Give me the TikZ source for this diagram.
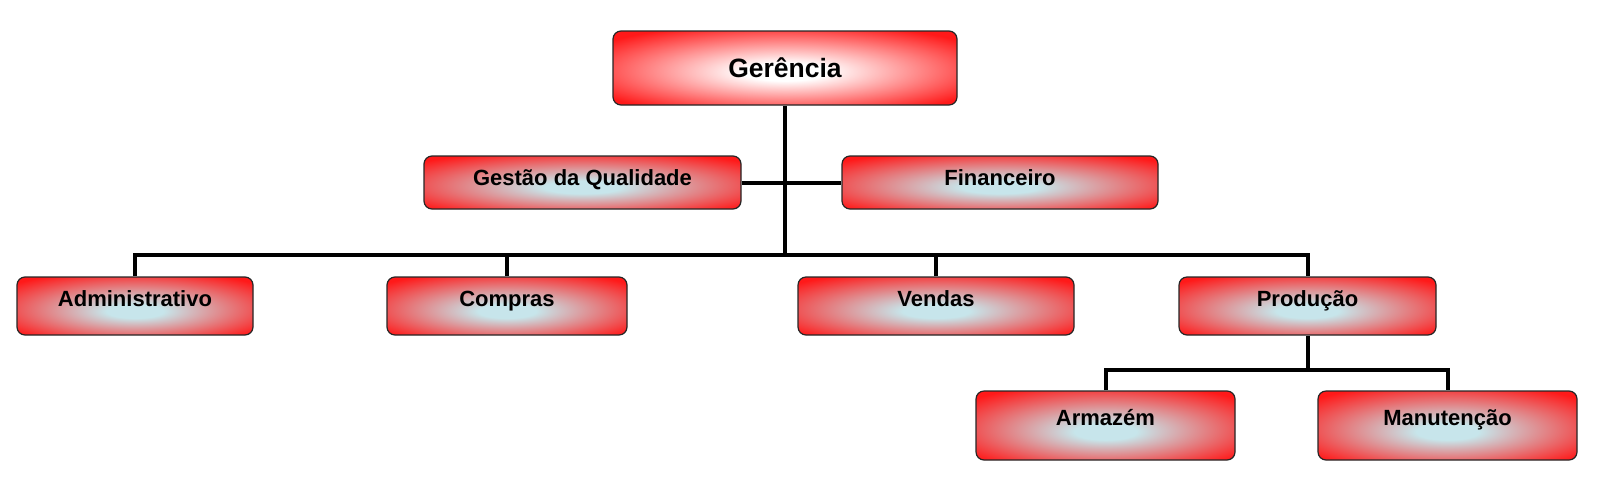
\documentclass[tikz,border=0pt]{standalone}
\usepackage{fontspec}
\setmainfont{Liberation Sans}
\usetikzlibrary{backgrounds}
\pgfdeclareradialshading{lvlshade}{\pgfpoint{0bp}{-5bp}}{rgb(0bp)=(0.78,0.90,0.92); rgb(6bp)=(0.78,0.90,0.92); rgb(33bp)=(1,0.1,0.1); rgb(50bp)=(1,0.1,0.1)}
\pgfdeclareradialshading{topshade}{\pgfpoint{0bp}{-3bp}}{rgb(0bp)=(1,1,1); rgb(6bp)=(1,1,1); rgb(32bp)=(1,0.1,0.1); rgb(50bp)=(1,0.1,0.1)}
\begin{document}
\begin{tikzpicture}[x=1pt,y=-1pt,
  box/.style={draw=black!85, line width=1.2pt, rounded corners=8pt, inner sep=0pt,
    shade, shading=lvlshade, font=\bfseries\fontsize{22}{26}\selectfont,
    text height=0pt, text depth=0pt},
  conn/.style={line width=4pt, draw=black}]
\useasboundingbox (0,0) rectangle (1600,488);

\node[box, shading=topshade, minimum width=344pt, minimum height=74pt,
  font=\bfseries\fontsize{26.5}{30}\selectfont, text height=19pt] (ger) at (785,68) {Gerência};
\node[box, minimum width=317pt, minimum height=53pt, text height=5pt] (gq) at (582.5,182.5) {Gestão da Qualidade};
\node[box, minimum width=316pt, minimum height=53pt, text height=5pt] (fin) at (1000,182.5) {Financeiro};

\node[box, minimum width=236pt, minimum height=58pt] (adm) at (135,306) {Administrativo};
\node[box, minimum width=240pt, minimum height=58pt] (comp) at (507,306) {Compras};
\node[box, minimum width=276pt, minimum height=58pt] (vend) at (936,306) {Vendas};
\node[box, minimum width=257pt, minimum height=58pt] (prod) at (1307.5,306) {Produção};

\node[box, minimum width=259pt, minimum height=69pt] (arm) at (1105.5,425.5) {Armazém};
\node[box, minimum width=259pt, minimum height=69pt] (man) at (1447.5,425.5) {Manutenção};

\coordinate (bus) at (785,255);
\coordinate (bus2) at (1307.5,370);

\begin{scope}[on background layer]
\draw[conn] (ger.south) -- (bus);
\draw[conn] (gq.east) -- (fin.west);
\draw[conn] (adm.north) -- (adm.north |- bus) -- (prod.north |- bus) -- (prod.north);
\draw[conn] (comp.north) -- (comp.north |- bus);
\draw[conn] (vend.north) -- (vend.north |- bus);
\draw[conn] (prod.south) -- (bus2);
\draw[conn] (arm.north) -- (arm.north |- bus2) -- (man.north |- bus2) -- (man.north);
\end{scope}
\end{tikzpicture}
\end{document}
